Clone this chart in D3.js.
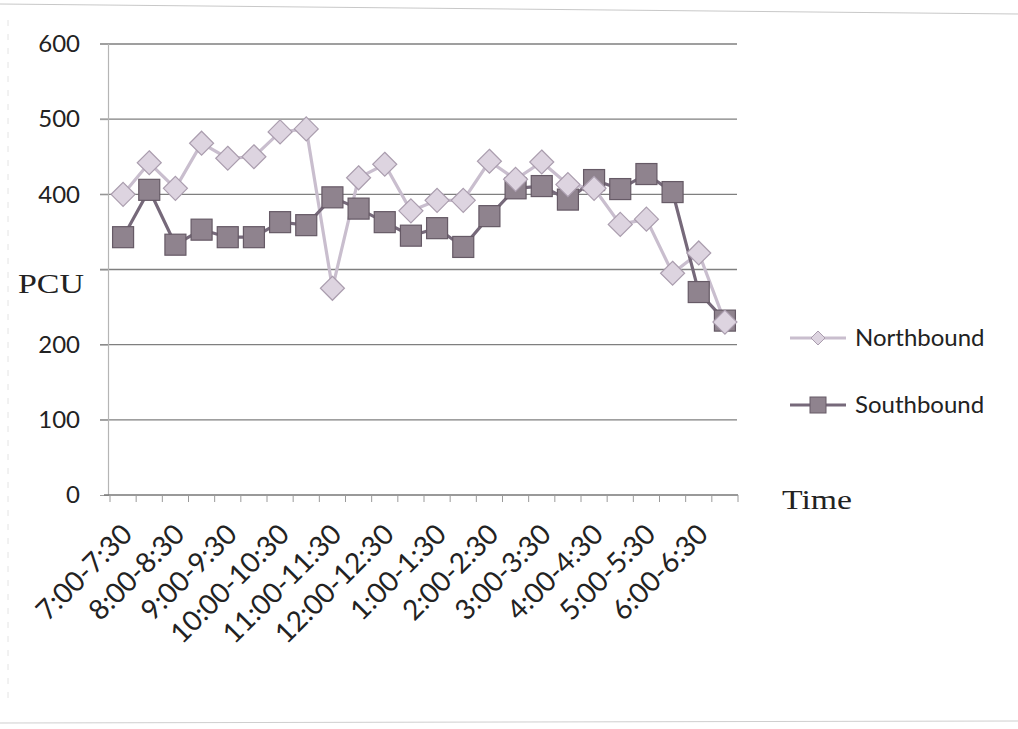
<!DOCTYPE html>
<html>
<head>
<meta charset="utf-8">
<script src="https://cdn.jsdelivr.net/npm/d3@7/dist/d3.min.js"></script>
<style>
  html, body { margin: 0; padding: 0; background: #fff; }
  svg { display: block; }
</style>
</head>
<body>
<svg id="chart" width="1018" height="729"></svg>
<script>
const categories = [
  "7:00-7:30","7:30-8:00","8:00-8:30","8:30-9:00","9:00-9:30","9:30-10:00",
  "10:00-10:30","10:30-11:00","11:00-11:30","11:30-12:00","12:00-12:30","12:30-1:00",
  "1:00-1:30","1:30-2:00","2:00-2:30","2:30-3:00","3:00-3:30","3:30-4:00",
  "4:00-4:30","4:30-5:00","5:00-5:30","5:30-6:00","6:00-6:30","6:30-7:00"
];
const northbound = [400, 442, 408, 468, 448, 450, 483, 487, 275, 422, 440, 378,
                    392, 392, 444, 420, 443, 413, 408, 360, 367, 295, 322, 230];
const southbound = [343, 406, 333, 353, 343, 343, 363, 359, 396, 381, 363, 345,
                    355, 330, 371, 408, 411, 393, 419, 407, 427, 403, 270, 232];
const yTicks = [0, 100, 200, 300, 400, 500, 600];
const yTickLabels = ["0", "100", "200", "", "400", "500", "600"];
const seriesNames = ["Northbound", "Southbound"];
const xLabelEvery = 2;

const svg = d3.select("#chart");

const x = d3.scaleBand().domain(categories).range([110, 738]).padding(0);
const y = d3.scaleLinear().domain([0, 600]).range([495, 44]);

// faint scan edges
svg.append("line").attr("x1", 0).attr("y1", 4).attr("x2", 1018).attr("y2", 14)
  .attr("stroke", "#c8c8c8").attr("stroke-width", 1.2);
svg.append("line").attr("x1", 0).attr("y1", 723).attr("x2", 1018).attr("y2", 721)
  .attr("stroke", "#cfcfcf").attr("stroke-width", 1.2);
svg.append("line").attr("x1", 8).attr("y1", 20).attr("x2", 8).attr("y2", 700)
  .attr("stroke", "#e4e4e4").attr("stroke-width", 1).attr("stroke-dasharray", "6,8");

// gridlines
svg.append("g").selectAll("line").data(yTicks.filter(d => d > 0)).join("line")
  .attr("x1", 100).attr("x2", 737)
  .attr("y1", d => y(d)).attr("y2", d => y(d))
  .attr("stroke", "#7f7f7f").attr("stroke-width", 1.4);

// y axis
const yAxis = d3.axisLeft(y).tickValues(yTicks)
  .tickFormat((d, i) => yTickLabels[i]).tickSize(8).tickPadding(20);
const gy = svg.append("g").attr("transform", "translate(108,0)").call(yAxis);
gy.select(".domain").attr("stroke", "#b5b5b5").attr("stroke-width", 1.2);
gy.selectAll(".tick line").attr("stroke", "#a0a0a0");
gy.selectAll(".tick text").attr("font-family", "Lato, 'Open Sans', sans-serif")
  .attr("font-size", 24).attr("fill", "#222");

// x axis baseline
svg.append("line").attr("x1", 104).attr("x2", 738).attr("y1", y(0)).attr("y2", y(0))
  .attr("stroke", "#777").attr("stroke-width", 1.6);
// x tick marks at band boundaries
const boundaries = categories.map(c => x(c)).concat([x.range()[1]]);
svg.append("g").selectAll("line").data(boundaries).join("line")
  .attr("x1", d => d).attr("x2", d => d)
  .attr("y1", y(0)).attr("y2", y(0) + 7)
  .attr("stroke", "#9a9a9a").attr("stroke-width", 1);

// x labels
svg.append("g").selectAll("text")
  .data(categories.filter((c, i) => i % xLabelEvery === 0 && i < categories.length - 1))
  .join("text")
  .attr("transform", d => `translate(${x(d) + x.bandwidth() / 2 + 4},${y(0) + 34}) rotate(-45)`)
  .attr("text-anchor", "end")
  .attr("dy", "0.35em")
  .attr("font-family", "Lato, 'Open Sans', sans-serif")
  .attr("font-size", 28).attr("fill", "#222")
  .text(d => d);

// axis titles
svg.append("text").attr("x", 18).attr("y", 293)
  .attr("font-family", "'Liberation Serif', serif").attr("font-size", 27)
  .attr("textLength", 66).attr("lengthAdjust", "spacingAndGlyphs")
  .attr("fill", "#222").text("PCU");
svg.append("text").attr("x", 782).attr("y", 509)
  .attr("font-family", "'Liberation Serif', serif").attr("font-size", 27)
  .attr("textLength", 70).attr("lengthAdjust", "spacingAndGlyphs")
  .attr("fill", "#222").text("Time");

const cx = d => x(d) + x.bandwidth() / 2;
const line = d3.line().x(d => cx(d.c)).y(d => y(d.v));

const nbData = categories.map((c, i) => ({ c, v: northbound[i] }));
const sbData = categories.map((c, i) => ({ c, v: southbound[i] }));

const styles = {
  nb: { line: "#c9bece", fill: "#ddd4e0", stroke: "#aa9dae" },
  sb: { line: "#76697a", fill: "#8f838e", stroke: "#665a66" }
};

const diamond = (s) => `M0,${-s} L${s},0 L0,${s} L${-s},0 Z`;

svg.append("path").datum(nbData).attr("d", line)
  .attr("fill", "none").attr("stroke", styles.nb.line).attr("stroke-width", 3.2);
svg.append("path").datum(sbData).attr("d", line)
  .attr("fill", "none").attr("stroke", styles.sb.line).attr("stroke-width", 3.2);

svg.append("g").selectAll("rect").data(sbData).join("rect")
  .attr("x", d => cx(d.c) - 10.5).attr("y", d => y(d.v) - 10.5)
  .attr("width", 21).attr("height", 21)
  .attr("fill", styles.sb.fill).attr("stroke", styles.sb.stroke).attr("stroke-width", 1.2);

svg.append("g").selectAll("path").data(nbData).join("path")
  .attr("transform", d => `translate(${cx(d.c)},${y(d.v)})`)
  .attr("d", diamond(12))
  .attr("fill", styles.nb.fill).attr("stroke", styles.nb.stroke).attr("stroke-width", 1.2);

// legend
const legend = svg.append("g");
const legRows = [
  { name: seriesNames[0], key: "nb", y: 338 },
  { name: seriesNames[1], key: "sb", y: 405 }
];
legRows.forEach(r => {
  const st = styles[r.key];
  legend.append("line").attr("x1", 790).attr("x2", 846).attr("y1", r.y).attr("y2", r.y)
    .attr("stroke", st.line).attr("stroke-width", 3);
  if (r.key === "nb") {
    legend.append("path").attr("transform", `translate(818,${r.y})`).attr("d", diamond(7))
      .attr("fill", st.fill).attr("stroke", st.stroke);
  } else {
    legend.append("rect").attr("x", 810).attr("y", r.y - 8).attr("width", 16).attr("height", 16)
      .attr("fill", st.fill).attr("stroke", st.stroke);
  }
  legend.append("text").attr("x", 855).attr("y", r.y).attr("dy", "0.35em")
    .attr("font-family", "Lato, 'Open Sans', sans-serif").attr("font-size", 24)
    .attr("fill", "#222").text(r.name);
});
</script>
</body>
</html>
